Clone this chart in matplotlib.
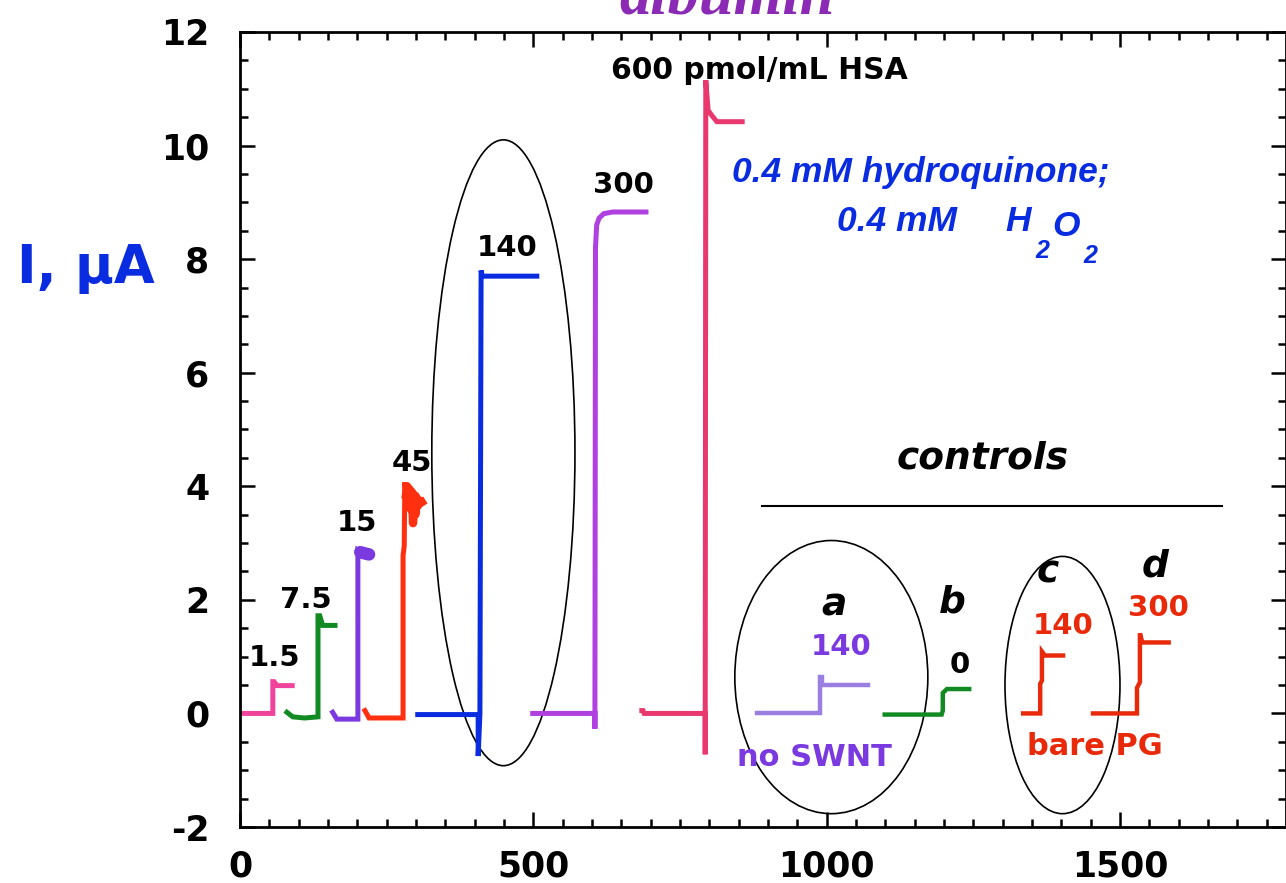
import matplotlib
matplotlib.use("Agg")
import matplotlib.pyplot as plt
from matplotlib import font_manager
from matplotlib.patches import Ellipse
from matplotlib.ticker import MultipleLocator

plt.rcParams["axes.unicode_minus"] = False

# ---- traces (time, s / current, uA) ----
hsa_1p5_t = [0, 56, 56, 58, 63, 89]
hsa_1p5_i = [0.0, 0.0, 0.56, 0.56, 0.49, 0.49]

hsa_7p5_t = [80, 90, 110, 133, 133, 136, 141, 162]
hsa_7p5_i = [0.02, -0.06, -0.08, -0.06, 1.72, 1.72, 1.55, 1.55]

hsa_15_t = [158, 165, 201, 201, 205, 212, 220]
hsa_15_i = [0.02, -0.1, -0.1, 2.87, 2.84, 2.82, 2.80]

hsa_45_t = [213, 220, 278, 278, 280, 281, 283, 285, 287, 289, 291, 293, 295, 297,
            299, 301, 303, 305, 307, 310]
hsa_45_i = [0.05, -0.08, -0.08, 2.78, 2.95, 4.07, 3.85, 4.0, 3.7, 3.95, 3.6, 3.9,
            3.35, 3.85, 3.5, 3.8, 3.65, 3.75, 3.7, 3.72]

hsa_140_t = [303, 406, 406, 409, 411, 413, 506]
hsa_140_i = [-0.02, -0.02, -0.75, 0.0, 7.8, 7.7, 7.7]

hsa_300_t = [499, 605, 605, 606, 608, 612, 620, 635, 692]
hsa_300_i = [0.0, 0.0, -0.27, 8.2, 8.6, 8.72, 8.8, 8.83, 8.83]

hsa_600_t = [685, 687, 689, 793, 793, 794, 798, 805, 813, 856]
hsa_600_i = [0.05, 0.05, 0.0, 0.0, -0.72, 11.15, 10.62, 10.52, 10.42, 10.42]

# ---- controls ----
ctl_a_t = [881, 989, 989, 992, 992, 1070]
ctl_a_i = [0.0, 0.0, 0.64, 0.64, 0.5, 0.5]

ctl_b_t = [1099, 1196, 1198, 1198, 1205, 1243]
ctl_b_i = [-0.02, -0.02, 0.05, 0.36, 0.43, 0.43]

ctl_c_t = [1335, 1364, 1364, 1367, 1367, 1372, 1403]
ctl_c_i = [0.0, 0.0, 0.52, 0.58, 1.09, 1.02, 1.02]

ctl_d_t = [1454, 1529, 1529, 1534, 1534, 1538, 1583]
ctl_d_i = [0.0, 0.0, 0.45, 0.55, 1.41, 1.25, 1.25]

conc_labels = ["1.5", "7.5", "15", "45", "140", "300"]
conc_label_x = [59, 112, 199, 293, 456, 653]
conc_label_y = [0.84, 1.86, 3.21, 4.27, 8.06, 9.17]

bold = dict(family="DejaVu Sans", fontweight="bold")
boldit = dict(family="DejaVu Sans", fontweight="bold", fontstyle="italic")
blue = "#0a2ce0"


def arial_like_bold_italic(size):
    # pick a normal-width Liberation Sans bold italic file (not the Narrow one)
    for f in font_manager.fontManager.ttflist:
        if (f.name == "Liberation Sans" and f.style == "italic" and f.weight == 700
                and "Narrow" not in f.fname):
            return font_manager.FontProperties(fname=f.fname, size=size)
    return font_manager.FontProperties(family="DejaVu Sans", weight="bold",
                                       style="italic", size=size * 0.85)


big_blue = arial_like_bold_italic(25.5)
small_blue = arial_like_bold_italic(18)

fig = plt.figure(figsize=(12.86, 8.83), dpi=100)
ax = fig.add_axes([0.1866, 0.0634, 0.8134, 0.9004])

main = [
    (hsa_1p5_t, hsa_1p5_i, "#f0449c"),
    (hsa_7p5_t, hsa_7p5_i, "#128a22"),
    (hsa_15_t, hsa_15_i, "#7a3ae0"),
    (hsa_45_t, hsa_45_i, "#ff3010"),
    (hsa_140_t, hsa_140_i, "#0a2ce0"),
    (hsa_300_t, hsa_300_i, "#b040e0"),
    (hsa_600_t, hsa_600_i, "#e8386e"),
]
for t, i, c in main:
    ax.plot(t, i, color=c, lw=3.6, solid_joinstyle="miter")
# the thick noisy tops of the 15 and 45 steps
ax.plot(hsa_15_t[-3:], hsa_15_i[-3:], color="#7a3ae0", lw=9, solid_capstyle="round")
ax.plot(hsa_45_t[6:], hsa_45_i[6:], color="#ff3010", lw=6)

controls = [
    (ctl_a_t, ctl_a_i, "#9a7ee0"),
    (ctl_b_t, ctl_b_i, "#128a22"),
    (ctl_c_t, ctl_c_i, "#e82a0a"),
    (ctl_d_t, ctl_d_i, "#e82a0a"),
]
for t, i, c in controls:
    ax.plot(t, i, color=c, lw=3.2, solid_joinstyle="miter")

# ellipses
for xy, w, h in [((449, 4.59), 244, 11.02), ((1008, 0.64), 329, 4.81),
                 ((1402, 0.5), 196, 4.53)]:
    ax.add_patch(Ellipse(xy, w, h, fill=False, ec="black", lw=1.2))

ax.plot([890, 1674], [3.66, 3.66], color="black", lw=1.5)

# labels
for s, x, y in zip(conc_labels, conc_label_x, conc_label_y):
    ax.text(x, y, s, ha="center", va="baseline", fontsize=21, **bold)
ax.text(886, 11.17, "600 pmol/mL HSA", ha="center", va="baseline", fontsize=21.5, **bold)

ax.text(838, 9.36, "0.4 mM hydroquinone;", ha="left", va="baseline",
        fontproperties=big_blue, color=blue)
ax.text(1018, 8.5, "0.4 mM", ha="left", va="baseline",
        fontproperties=big_blue, color=blue)
t1 = ax.text(1305, 8.5, "H", ha="left", va="baseline",
             fontproperties=big_blue, color=blue)
t2 = ax.annotate("2", xy=(1, 0), xycoords=t1, xytext=(4, -20),
                 textcoords="offset pixels", va="baseline", ha="left",
                 fontproperties=small_blue, color=blue)
t3 = ax.annotate("O", xy=(1, 0), xycoords=t2, xytext=(3, 20),
                 textcoords="offset pixels", va="bottom", ha="left",
                 fontproperties=big_blue, color=blue)
ax.annotate("2", xy=(1, 0), xycoords=t3, xytext=(4, -20),
            textcoords="offset pixels", va="baseline", ha="left",
            fontproperties=small_blue, color=blue)

ax.text(1266, 4.31, "controls", ha="center", va="baseline", fontsize=27, **boldit)
for s, x, y in [("a", 1012, 1.72), ("b", 1215, 1.77), ("c", 1377, 2.30), ("d", 1560, 2.42)]:
    ax.text(x, y, s, ha="center", va="baseline", fontsize=27, **boldit)

ax.text(1024, 1.03, "140", ha="center", va="baseline", fontsize=21, color="#7a3ae0", **bold)
ax.text(980, -0.92, "no SWNT", ha="center", va="baseline", fontsize=22, color="#7a3ae0", **bold)
ax.text(1227, 0.72, "0", ha="center", va="baseline", fontsize=21, **bold)
ax.text(1403, 1.40, "140", ha="center", va="baseline", fontsize=21, color="#e82a0a", **bold)
ax.text(1565, 1.72, "300", ha="center", va="baseline", fontsize=21, color="#e82a0a", **bold)
ax.text(1457, -0.73, "bare PG", ha="center", va="baseline", fontsize=22, color="#e82a0a", **bold)

# axes
ax.set_xlim(0, 1783)
ax.set_ylim(-2, 12)
ax.xaxis.set_major_locator(MultipleLocator(500))
ax.xaxis.set_minor_locator(MultipleLocator(50))
ax.yaxis.set_major_locator(MultipleLocator(2))
ax.yaxis.set_minor_locator(MultipleLocator(0.5))
ax.tick_params(which="both", direction="in", top=True, right=True, width=1.8)
ax.tick_params(which="major", length=11)
ax.tick_params(which="minor", length=6)
ax.tick_params(axis="x", pad=16)
ax.tick_params(axis="y", pad=22)
for lab in ax.get_xticklabels() + ax.get_yticklabels():
    lab.set_fontfamily("DejaVu Sans")
    lab.set_fontweight("bold")
    lab.set_fontsize(25)
for sp in ax.spines.values():
    sp.set_linewidth(2)

fig.text(0.0669, 0.697, "I, \u03bcA", ha="center", va="center", fontsize=38,
         color=blue, **bold)
fig.text(0.565, 0.985, "albumin", ha="center", va="baseline", fontsize=45,
         family="Liberation Serif", fontweight="bold", fontstyle="italic",
         color="#8a2ab5")

fig.savefig("out.png", dpi=100)
